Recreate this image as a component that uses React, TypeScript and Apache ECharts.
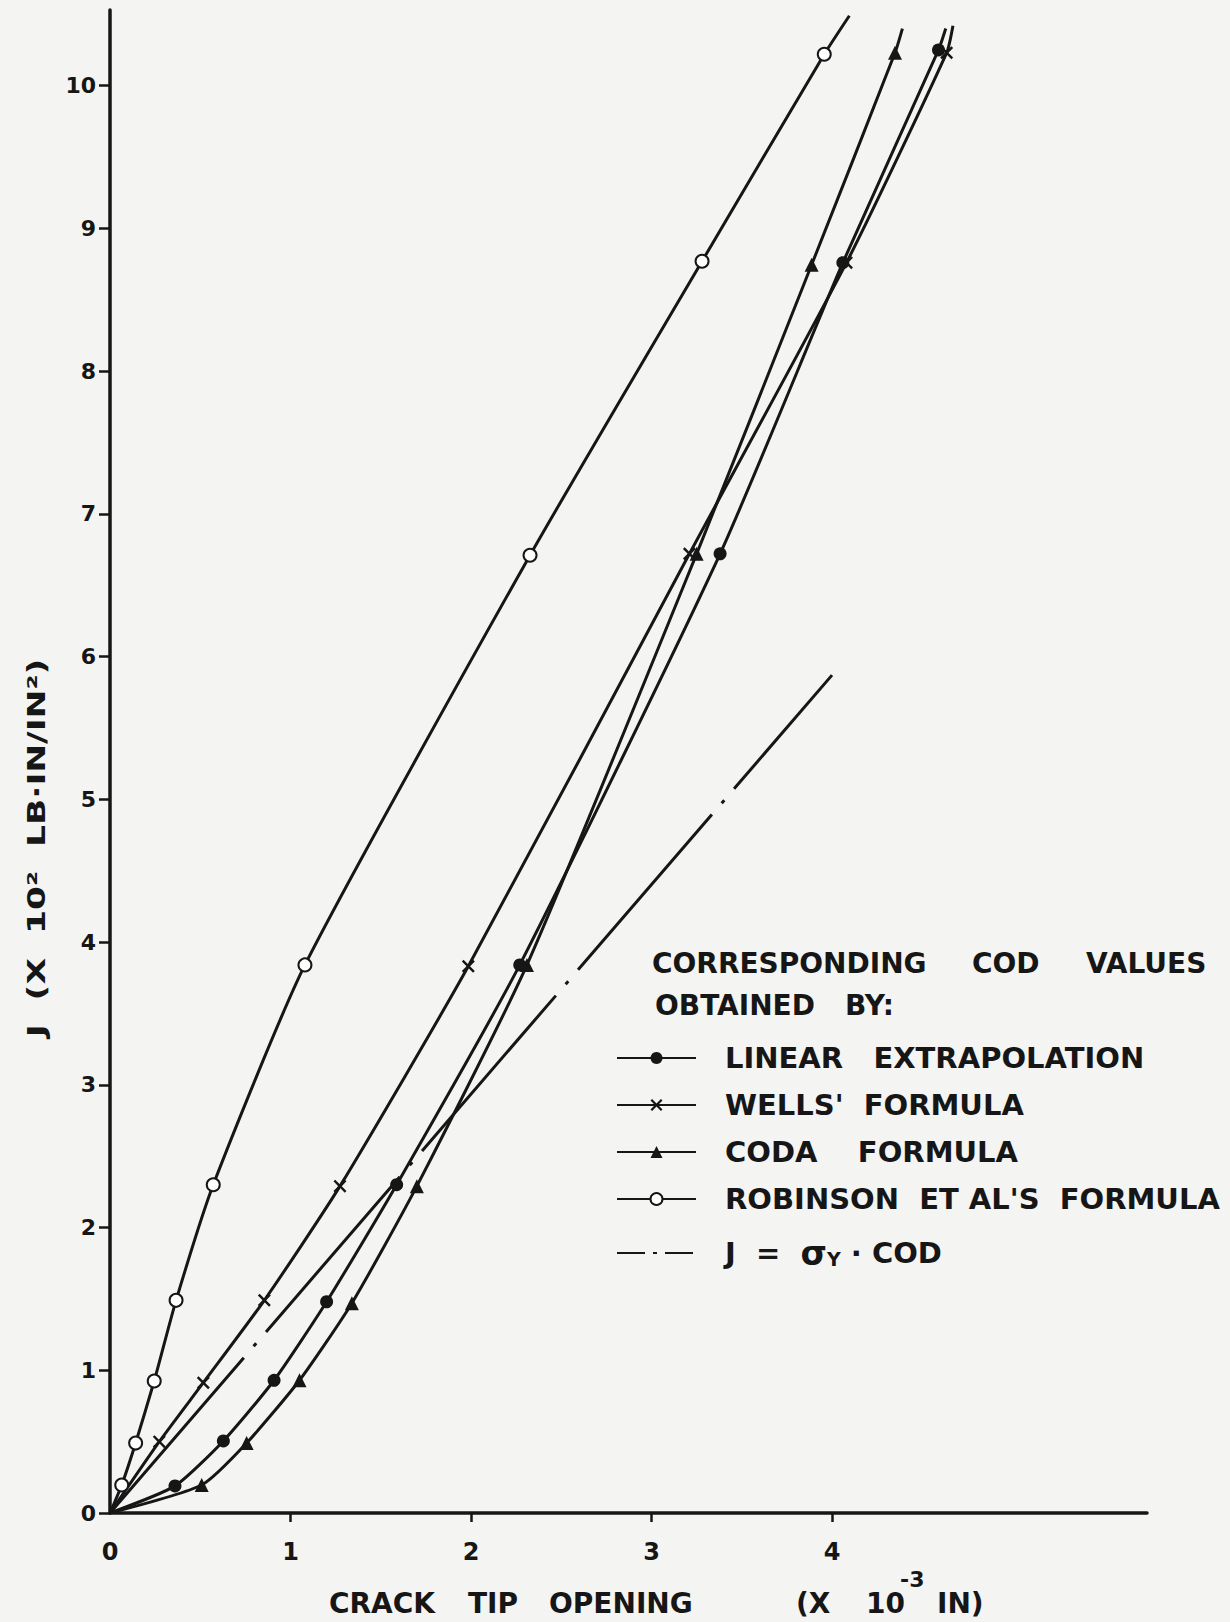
import React, { useEffect, useRef } from "react";
import * as echarts from "echarts";

const FONT = "DejaVu Sans";
const INK = "#161616";
const PAPER = "#f4f4f2";

// Crack tip opening (x 10^-3 in) and J (x 10^2 lb-in/in^2)
const linearX = [0, 0.36, 0.628, 0.909, 1.2, 1.588, 2.27, 3.38, 4.06, 4.59, 4.63];
const linearJ = [0, 0.19, 0.505, 0.93, 1.48, 2.3, 3.84, 6.72, 8.76, 10.25, 10.4];

const wellsX = [0, 0.273, 0.517, 0.855, 1.274, 1.985, 3.21, 4.08, 4.635, 4.67];
const wellsJ = [0, 0.5, 0.913, 1.49, 2.29, 3.83, 6.72, 8.76, 10.23, 10.42];

const codaX = [0, 0.508, 0.757, 1.05, 1.34, 1.7, 2.31, 3.25, 3.887, 4.349, 4.39];
const codaJ = [0, 0.196, 0.49, 0.93, 1.47, 2.29, 3.84, 6.72, 8.745, 10.23, 10.4];

const robinsonX = [0, 0.065, 0.142, 0.245, 0.366, 0.572, 1.08, 2.327, 3.28, 3.957, 4.096];
const robinsonJ = [0, 0.196, 0.49, 0.925, 1.49, 2.3, 3.84, 6.71, 8.77, 10.22, 10.49];

const sigmaX = [0, 4.0];
const sigmaJ = [0, 5.87];

const xTickValues = [1, 2, 3, 4];
const xLabelValues = [0, 1, 2, 3, 4];
const yTickValues = [0, 1, 2, 3, 4, 5, 6, 7, 8, 9, 10];

const seriesNames = [
  "LINEAR EXTRAPOLATION",
  "WELLS' FORMULA",
  "CODA FORMULA",
  "ROBINSON ET AL'S FORMULA",
  "J = σY · COD",
];

const legendLabels: Record<string, string> = {
  "LINEAR EXTRAPOLATION": "LINEAR   EXTRAPOLATION",
  "WELLS' FORMULA": "WELLS'  FORMULA",
  "CODA FORMULA": "CODA    FORMULA",
  "ROBINSON ET AL'S FORMULA": "ROBINSON  ET AL'S  FORMULA",
  "J = σY · COD": "J  =  {sig|σ}{sub|Y} · COD",
};

const X_MARK =
  "path://M0,1.6 L1.6,0 L6,4.4 L10.4,0 L12,1.6 L7.6,6 L12,10.4 L10.4,12 L6,7.6 L1.6,12 L0,10.4 L4.4,6 Z";

function pairs(xs: number[], ys: number[], bareLast: boolean) {
  return xs.map((x, i) => {
    const item: any = { value: [x, ys[i]] };
    if (i === 0 || (bareLast && i === xs.length - 1)) item.symbol = "none";
    return item;
  });
}

function text(x: number, y: number, str: string, size: number, extra: any = {}) {
  return {
    type: "text",
    x,
    y,
    silent: true,
    ...extra,
    style: {
      text: str,
      fill: INK,
      fontSize: size,
      fontWeight: "bold",
      fontFamily: FONT,
      align: extra.align || "left",
      textAlign: extra.align || "left",
      verticalAlign: "middle",
      textVerticalAlign: "middle",
      ...(extra.style || {}),
    },
  };
}

export default function App() {
  const ref = useRef<HTMLDivElement>(null);

  useEffect(() => {
    if (!ref.current) return;
    const chart = echarts.init(ref.current, undefined, { renderer: "svg" });

    const lineCommon = {
      type: "line",
      smooth: 0.2,
      lineStyle: { color: INK, width: 3 },
      itemStyle: { color: INK },
    };

    const option: any = {
      animation: false,
      backgroundColor: PAPER,
      grid: { left: 110, right: 83, top: 10, bottom: 109 },
      xAxis: {
        type: "value",
        min: 0,
        max: 5.745,
        interval: 1,
        axisLine: { show: true, onZero: false, lineStyle: { color: INK, width: 3.5 } },
        axisTick: {
          show: true,
          length: 9,
          customValues: xTickValues,
          lineStyle: { color: INK, width: 2.5 },
        },
        axisLabel: {
          customValues: xLabelValues,
          margin: 27,
          fontSize: 24,
          fontWeight: "bold",
          fontFamily: FONT,
          color: INK,
        },
        splitLine: { show: false },
      },
      yAxis: {
        type: "value",
        min: 0,
        max: 10.53,
        interval: 1,
        axisLine: { show: true, onZero: false, lineStyle: { color: INK, width: 3.5 } },
        axisTick: {
          show: true,
          length: 11,
          customValues: yTickValues,
          lineStyle: { color: INK, width: 2.5 },
        },
        axisLabel: {
          customValues: yTickValues,
          margin: 14,
          fontSize: 22,
          fontWeight: "bold",
          fontFamily: FONT,
          color: INK,
        },
        splitLine: { show: false },
      },
      legend: {
        orient: "vertical",
        left: 611,
        top: 1038,
        itemWidth: 79,
        itemHeight: 15,
        itemGap: 17,
        selectedMode: false,
        data: [
          { name: seriesNames[0] },
          { name: seriesNames[1] },
          { name: seriesNames[2] },
          { name: seriesNames[3] },
          {
            name: seriesNames[4],
            itemStyle: { opacity: 0 },
            lineStyle: { type: [28, 8, 4, 8] },
          },
        ],
        formatter: (name: string) => legendLabels[name] || name,
        textStyle: {
          fontSize: 29,
          fontWeight: "bold",
          fontFamily: FONT,
          color: INK,
          lineHeight: 30,
          padding: [0, 0, 0, 24],
          rich: {
            sig: { fontSize: 34, fontWeight: "bold", fontFamily: FONT, color: INK, lineHeight: 30 },
            sub: {
              fontSize: 19,
              fontWeight: "bold",
              fontFamily: FONT,
              color: INK,
              lineHeight: 30,
              verticalAlign: "bottom",
              padding: [18, 0, 0, 0],
            },
          },
        },
      },
      series: [
        {
          ...lineCommon,
          name: seriesNames[0],
          data: pairs(linearX, linearJ, true),
          symbol: "circle",
          symbolSize: 13,
          z: 4,
        },
        {
          ...lineCommon,
          name: seriesNames[1],
          data: pairs(wellsX, wellsJ, true),
          symbol: X_MARK,
          symbolSize: 13,
          z: 3,
        },
        {
          ...lineCommon,
          name: seriesNames[2],
          data: pairs(codaX, codaJ, true),
          symbol: "triangle",
          symbolSize: 14,
          z: 4,
        },
        {
          ...lineCommon,
          name: seriesNames[3],
          data: pairs(robinsonX, robinsonJ, true),
          symbol: "emptyCircle",
          symbolSize: 13,
          itemStyle: { color: INK, borderWidth: 3 },
          z: 5,
        },
        {
          type: "line",
          name: seriesNames[4],
          data: sigmaX.map((x, i) => [x, sigmaJ[i]]),
          symbol: "circle",
          showSymbol: false,
          lineStyle: { color: INK, width: 3, type: [205, 15, 4, 15] },
          itemStyle: { color: INK },
          z: 2,
        },
      ],
      graphic: [
        // y-axis title
        text(36, 848, "J  (X  10²  LB·IN/IN²)", 25, {
          rotation: Math.PI / 2,
          scaleX: 1.38,
          align: "center",
        }),
        // x-axis title
        text(329, 1603, "CRACK", 28),
        text(468, 1603, "TIP", 28),
        text(549, 1603, "OPENING", 28),
        text(796, 1603, "(X", 28),
        text(866, 1603, "10", 28),
        text(900, 1579, "-3", 22),
        text(937, 1603, "IN)", 28),
        // legend heading
        text(652, 963, "CORRESPONDING", 28),
        text(972, 963, "COD", 28),
        text(1086, 963, "VALUES", 28),
        text(655, 1005, "OBTAINED", 28),
        text(845, 1005, "BY:", 28),
      ],
    };

    chart.setOption(option);
    return () => chart.dispose();
  }, []);

  return (
    <div
      ref={ref}
      style={{ position: "absolute", left: 0, top: 0, width: 1230, height: 1622 }}
    />
  );
}
